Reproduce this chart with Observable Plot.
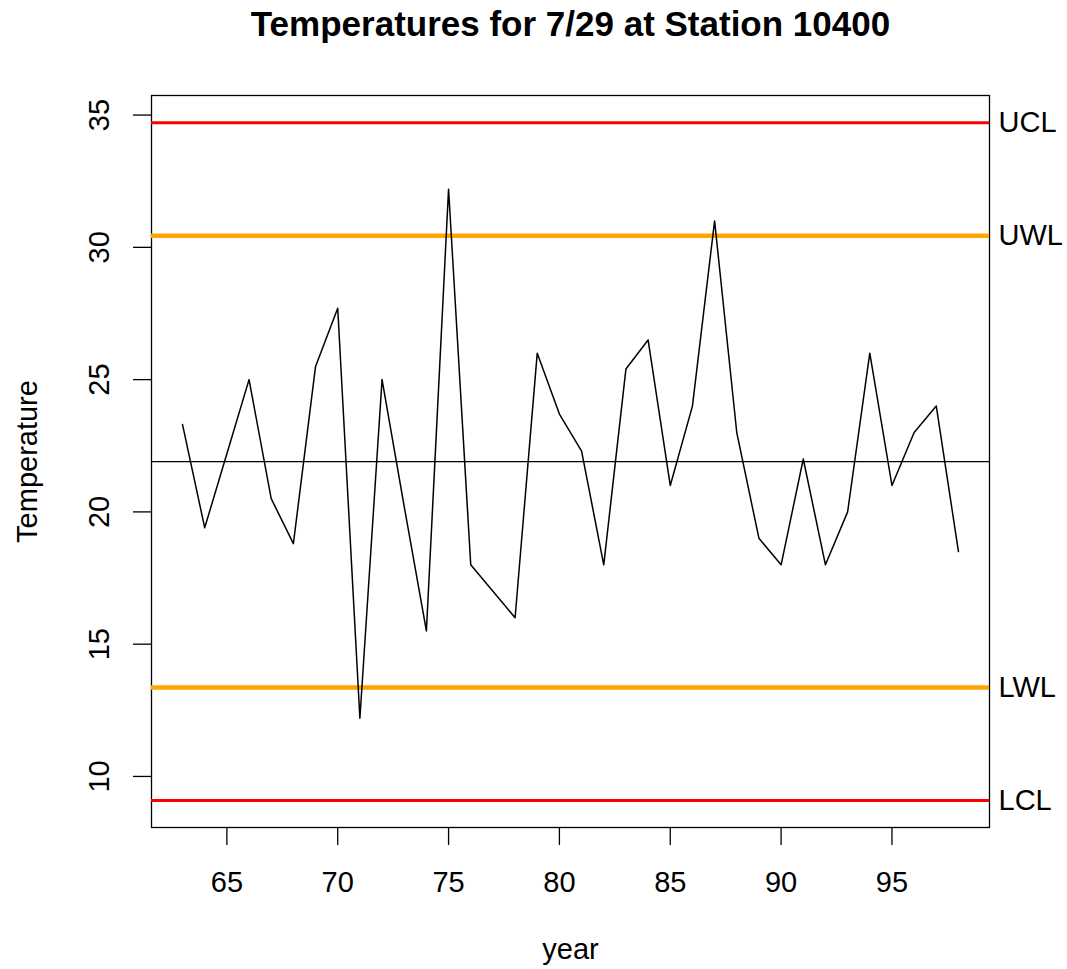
<!DOCTYPE html>
<html>
<head>
<meta charset="utf-8">
<script src="https://cdn.jsdelivr.net/npm/d3@7"></script>
<script src="https://cdn.jsdelivr.net/npm/@observablehq/plot@0.6"></script>
<style>
  html, body { margin: 0; padding: 0; background: #fff; }
  svg { display: block; }
</style>
</head>
<body>
<div id="chart"></div>
<script>
// Data
const years = [63,64,65,66,67,68,69,70,71,72,73,74,75,76,77,78,79,80,81,82,83,84,85,86,87,88,89,90,91,92,93,94,95,96,97,98];
const temps = [23.3,19.4,22.2,25.0,20.5,18.8,25.5,27.7,12.2,25.0,20.2,15.5,32.2,18.0,17.0,16.0,26.0,23.7,22.3,18.0,25.4,26.5,21.0,24.0,31.0,23.0,19.0,18.0,22.0,18.0,20.0,26.0,21.0,23.0,24.0,18.5];
const centerLine = 21.9;
const limitNames = ["UCL", "UWL", "LWL", "LCL"];
const limitValues = [34.71, 30.44, 13.36, 9.09];
const limitColors = ["#FF0000", "#FFA500", "#FFA500", "#FF0000"];
const limitWidths = [3, 4.5, 4.5, 3];
const xTicks = [65, 70, 75, 80, 85, 90, 95];
const yTicks = [10, 15, 20, 25, 30, 35];
const titleText = "Temperatures for 7/29 at Station 10400";
const xLabel = "year";
const yLabel = "Temperature";

const series = years.map((y, i) => ({year: y, temp: temps[i]}));
const limits = limitNames.map((n, i) => ({name: n, value: limitValues[i], color: limitColors[i], width: limitWidths[i]}));

const font = "'Liberation Sans', Arial, Helvetica, sans-serif";
const fs = 29;

const chart = Plot.plot({
  width: 1067,
  height: 969,
  marginLeft: 151,
  marginRight: 78,
  marginTop: 95,
  marginBottom: 142,
  style: {fontFamily: font, fontSize: fs + "px", color: "#000", background: "#fff"},
  x: {domain: [61.6, 99.4]},
  y: {domain: [8.07, 35.74]},
  marks: [
    Plot.frame({stroke: "#000", strokeWidth: 1.3}),
    Plot.axisX({ticks: xTicks, tickSize: 18, strokeWidth: 1.3, label: null, text: null}),
    Plot.axisY({ticks: yTicks, tickSize: 18, strokeWidth: 1.3, label: null, text: null}),
    Plot.text(xTicks, {x: d => d, text: d => String(d), frameAnchor: "bottom", dy: 55, lineAnchor: "middle", fontSize: fs}),
    Plot.text(yTicks, {y: d => d, text: d => String(d), frameAnchor: "left", dx: -52, rotate: -90, lineAnchor: "middle", textAnchor: "middle", fontSize: fs}),
    Plot.ruleY([centerLine], {stroke: "#000", strokeWidth: 1.4}),
    Plot.ruleY(limits, {y: "value", stroke: "color", strokeWidth: "width"}),
    Plot.line(series, {x: "year", y: "temp", stroke: "#000", strokeWidth: 1.5}),
    Plot.text(limits, {y: "value", text: "name", frameAnchor: "right", dx: 9, textAnchor: "start", lineAnchor: "middle", fontSize: fs}),
    Plot.text([titleText], {frameAnchor: "top", dy: -71, lineAnchor: "middle", textAnchor: "middle", fontWeight: "bold", fontSize: 35}),
    Plot.text([xLabel], {frameAnchor: "bottom", dy: 122, lineAnchor: "middle", textAnchor: "middle", fontSize: fs}),
    Plot.text([yLabel], {frameAnchor: "left", dx: -124, rotate: -90, lineAnchor: "middle", textAnchor: "middle", fontSize: fs})
  ]
});
document.getElementById("chart").appendChild(chart);
</script>
</body>
</html>
